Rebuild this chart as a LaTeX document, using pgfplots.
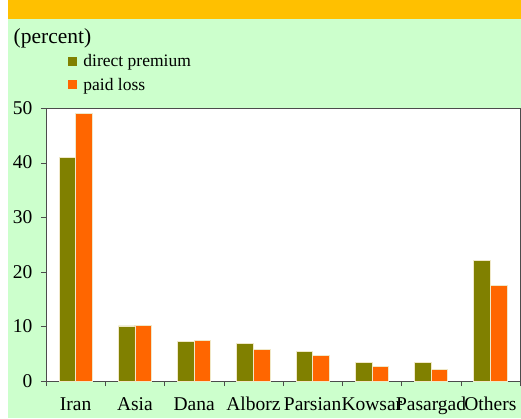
\documentclass[border=0pt]{standalone}
\usepackage{fontspec}
\setmainfont{Liberation Serif}
\usepackage{pgfplots}
\pgfplotsset{compat=1.18}
\definecolor{olivebar}{HTML}{808000}
\definecolor{orangebar}{HTML}{FF6600}
\definecolor{bggreen}{HTML}{CCFFCC}
\definecolor{banner}{HTML}{FFC000}
\definecolor{baredge}{HTML}{F0E8C8}
\begin{document}
\begin{tikzpicture}[x=1pt,y=1pt]
\useasboundingbox (0,0) rectangle (521,418);
\fill[white] (0,0) rectangle (521,418);
\fill[bggreen] (8,0) rectangle (521,399);
\fill[banner] (8,399) rectangle (521,418);
\node[anchor=west, font=\fontsize{21.5}{23}\selectfont, inner sep=0] at (13.5,380) {(percent)};
\begin{axis}[
  at={(46pt,37pt)}, anchor=south west, scale only axis,
  width=474pt, height=273pt,
  xmin=-0.5, xmax=7.5, ymin=0, ymax=50,
  axis background/.style={fill=white},
  axis line style={black!70},
  xtick={0,...,7},
  xticklabels={Iran,Asia,Dana,Alborz,Parsian,Kowsar,Pasargad,Others},
  minor xtick={-0.5,0.5,...,7.5},
  major x tick style={draw=none},
  minor tick length=5pt,
  major tick length=5pt,
  tick align=outside,
  xtick pos=bottom, ytick pos=left,
  ytick={0,10,...,50},
  tick style={black!70},
  /pgf/number format/assume math mode=true,
  ticklabel style={font=\fontsize{19.5}{21}\selectfont},
  xticklabel style={anchor=base, yshift=-24pt},
  yticklabel style={xshift=-5pt},
  bar width=0.28,
  legend style={at={(axis description cs:0.047,1.205)}, anchor=north west,
    draw=none, fill=none, inner sep=0pt, row sep=6pt, column sep=4pt,
    font=\fontsize{17.5}{19}\selectfont, cells={anchor=west}},
  legend image code/.code={\path[#1,draw=none] (0pt,-4.5pt) rectangle (9pt,4.5pt);},
]
\addplot[ybar, bar shift=-0.14, fill=olivebar, draw=baredge, line width=0.6pt] coordinates {
 (0,41.0) (1,10.1) (2,7.3) (3,6.85) (4,5.4) (5,3.4) (6,3.35) (7,22.1)};
\addlegendentry{direct premium}
\addplot[ybar, bar shift=0.14, fill=orangebar, draw=baredge, line width=0.6pt] coordinates {
 (0,49.0) (1,10.25) (2,7.5) (3,5.8) (4,4.7) (5,2.7) (6,2.15) (7,17.5)};
\addlegendentry{paid loss}
\end{axis}
\end{tikzpicture}
\end{document}
